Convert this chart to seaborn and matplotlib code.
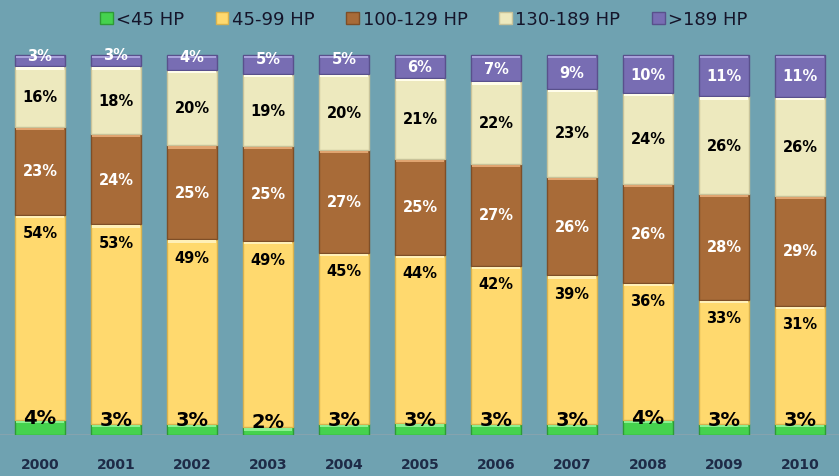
import matplotlib
matplotlib.use("Agg")
import matplotlib.pyplot as plt
import seaborn as sns
import numpy as np
import pandas as pd
from matplotlib.patches import Patch

years = ["2000", "2001", "2002", "2003", "2004", "2005", "2006", "2007", "2008", "2009", "2010"]
series_names = ["<45 HP", "45-99 HP", "100-129 HP", "130-189 HP", ">189 HP"]
lt45 = [4, 3, 3, 2, 3, 3, 3, 3, 4, 3, 3]
hp45_99 = [54, 53, 49, 49, 45, 44, 42, 39, 36, 33, 31]
hp100_129 = [23, 24, 25, 25, 27, 25, 27, 26, 26, 28, 29]
hp130_189 = [16, 18, 20, 19, 20, 21, 22, 23, 24, 26, 26]
gt189 = [3, 3, 4, 5, 5, 6, 7, 9, 10, 11, 11]

colors = ["#45D24E", "#FFD96E", "#A86B38", "#EDE9BE", "#786DB3"]
edge_colors = ["#2E9A36", "#D9B24E", "#7E4E27", "#C8C39A", "#59508C"]
top_light = ["#8CF090", "#FFF0B8", "#E0A470", "#FFFDEA", "#A9A2DA"]
label_colors = ["black", "black", "white", "black", "white"]
bg = "#6FA2B1"

df = pd.DataFrame({"year": years, series_names[0]: lt45, series_names[1]: hp45_99,
                   series_names[2]: hp100_129, series_names[3]: hp130_189, series_names[4]: gt189})

sns.set_theme(style="white")
plt.rcParams['font.family'] = ['DejaVu Sans']

fig = plt.figure(figsize=(8.39, 4.77), dpi=100)
fig.patch.set_facecolor(bg)
ax = fig.add_axes([0, 41/477, 1, 436/477])
ax.set_facecolor(bg)

totals = df[series_names].sum(axis=1).values
bottom = np.zeros(len(years))
x = np.arange(len(years))
w = 0.66
for i, name in enumerate(series_names):
    vals = df[name].values
    share = vals / totals * 100
    ax.bar(x, share, bottom=bottom, width=w, color=colors[i],
           edgecolor=edge_colors[i], linewidth=1.0, zorder=3)
    hl = np.minimum(0.6, share * 0.3)
    ax.bar(x, hl, bottom=bottom + share - hl - 0.25,
           width=w - 0.03, color=top_light[i], linewidth=0, zorder=4)
    for xi, b, s, v in zip(x, bottom, share, vals):
        yc = b + s / 2
        if i == 0:
            yc = b + s / 2 + 2.6
        elif i == 1:
            yc = b + s - 4.7
        elif i == 4 and s < 6:
            yc = b + s / 2 + 1.5
        ax.text(xi, yc, f"{v}%", ha="center", va="center",
                fontsize=14 if i == 0 else 10.5, fontweight="bold",
                color=label_colors[i], zorder=5)
    bottom += share

ax.set_xlim(-40/76, 799/76)
ax.set_ylim(0, 436/3.8)
ax.axhline(0, color="#8AA4AE", linewidth=1.2, zorder=2)
ax.set_xticks(x)
ax.set_xticklabels(years, fontsize=10, fontweight="bold", color="#1E2B47")
ax.tick_params(axis="x", length=0, pad=16)
ax.set_yticks([])
for sp in ax.spines.values():
    sp.set_visible(False)

handles = [Patch(facecolor=c, edgecolor=e, label=n) for c, e, n in zip(colors, edge_colors, series_names)]
leg = fig.legend(handles=handles, loc="upper center", bbox_to_anchor=(0.505, 1.01), ncol=5,
                 frameon=False, fontsize=13, handlelength=0.7, handleheight=0.7,
                 handletextpad=0.2, columnspacing=1.75)
for t in leg.get_texts():
    t.set_color("#15152A")

fig.savefig("out.png", dpi=100, facecolor=bg)
